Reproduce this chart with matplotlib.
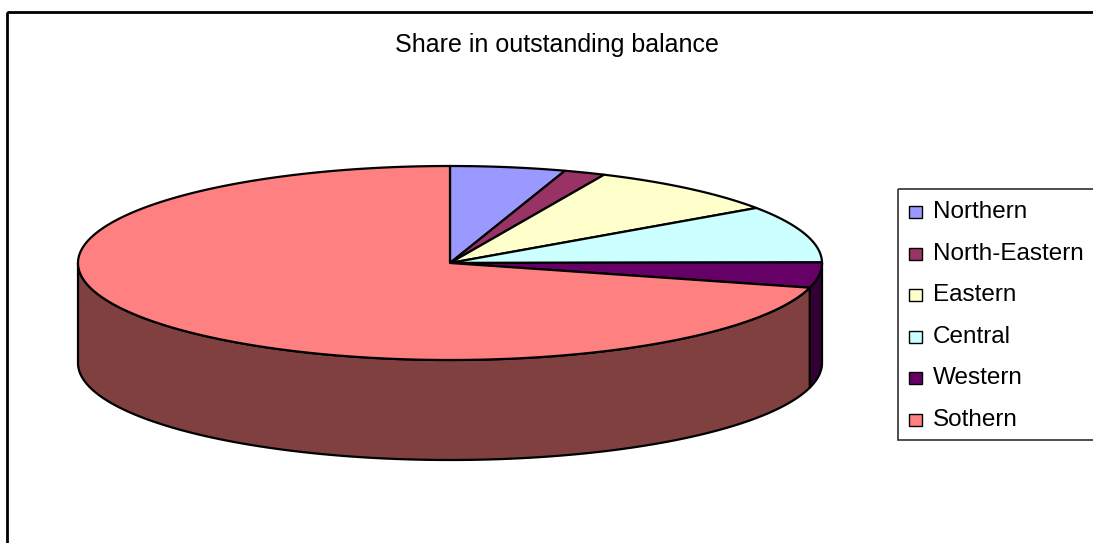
import numpy as np
import matplotlib
matplotlib.use("Agg")
import matplotlib.pyplot as plt
from matplotlib.patches import Polygon, Rectangle
from matplotlib.colors import to_rgb

plt.rcParams["font.family"] = ["Liberation Sans", "DejaVu Sans"]

# share of each region in the outstanding balance, %
regions = ["Northern", "North-Eastern", "Eastern", "Central", "Western", "Sothern"]
shares = [5.0, 1.8, 8.6, 9.5, 4.2, 70.9]
colors = ["#9999FF", "#993366", "#FFFFCC", "#CCFFFF", "#660066", "#FF8080"]

# pie geometry in pixels (y grows downward)
CX, CY, RX, RY, DEPTH = 450, 263, 372, 97, 100

fig = plt.figure(figsize=(10.93, 5.43), dpi=100)
ax = fig.add_axes([0, 0, 1, 1])
ax.set_xlim(0, 1093)
ax.set_ylim(543, 0)
ax.axis("off")

# chart area border
ax.add_patch(Rectangle((7, 12), 1200, 600, fill=False, ec="black", lw=2))


def rim(a, b, dy=0.0):
    t = np.radians(np.linspace(a, b, max(int(abs(b - a) * 2), 2)))
    return CX + RX * np.sin(t), CY - RY * np.cos(t) + dy


def darker(c):
    return tuple(v * 0.5 for v in to_rgb(c))


bounds = 360 * np.concatenate([[0], np.cumsum(shares)]) / np.sum(shares)
edge = dict(ec="black", lw=1.6, joinstyle="round")

# front walls (only the lower half of the cylinder is visible)
for i, col in enumerate(colors):
    lo, hi = max(bounds[i], 90), min(bounds[i + 1], 270)
    if lo >= hi:
        continue
    xt, yt = rim(lo, hi)
    xb, yb = rim(hi, lo, DEPTH)
    pts = np.column_stack([np.concatenate([xt, xb]), np.concatenate([yt, yb])])
    ax.add_patch(Polygon(pts, closed=True, fc=darker(col), **edge))

# top faces
for i, col in enumerate(colors):
    xs, ys = rim(bounds[i], bounds[i + 1])
    pts = np.column_stack([np.concatenate([[CX], xs]), np.concatenate([[CY], ys])])
    ax.add_patch(Polygon(pts, closed=True, fc=col, **edge))

ax.text(557, 45, "Share in outstanding balance", ha="center", va="center",
        fontsize=18, color="black")

# legend
ax.add_patch(Rectangle((898, 189), 300, 251, fill=False, ec="#303030", lw=1.2))
for i, (name, col) in enumerate(zip(regions, colors)):
    y = 212 + i * 41.6
    ax.add_patch(Rectangle((909, y - 6), 13, 12, fc=col, ec="black", lw=1))
    ax.text(933, y, name, ha="left", va="center", fontsize=17.5, color="black")

fig.savefig("out.png", dpi=100)
